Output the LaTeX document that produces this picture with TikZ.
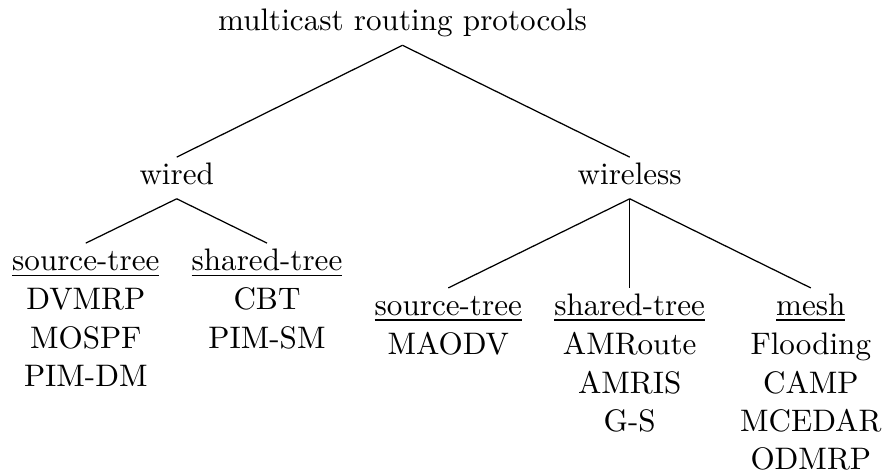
\documentclass[tikz,border=0pt]{standalone}
\begin{document}
\begin{tikzpicture}[x=0.3215pt,y=-0.3215pt,
  tn/.style={inner xsep=0pt, inner ysep=1.6pt, text height=7pt, text depth=2.8pt, anchor=base},
  item/.style={inner sep=0pt, anchor=base},
  edge/.style={line width=0.4pt}]
\useasboundingbox (0,0) rectangle (885,476);
% tree nodes
\node[tn] (root) at (402.5,31) {multicast routing protocols};
\node[tn] (wired) at (176.7,184.5) {wired};
\node[tn] (wireless) at (629.7,184.5) {wireless};
\node[tn] (lsrc) at (85.8,270.5) {\underline{source-tree}};
\node[tn] (lsh) at (267,270.5) {\underline{shared-tree}};
\node[tn] (rsrc) at (448.3,315.3) {\underline{source-tree}};
\node[tn] (rsh) at (629.7,315.3) {\underline{shared-tree}};
\node[tn] (mesh) at (810.8,315.3) {\underline{mesh}};
% lists
\node[item] (dvmrp) at (85.8,310) {DVMRP};
\node[item] (mospf) at (85.8,348.3) {MOSPF};
\node[item] (pimdm) at (85.8,386.7) {PIM-DM};
\node[item] (cbt) at (267,310) {CBT};
\node[item] (pimsm) at (267,348.3) {PIM-SM};
\node[item] (maodv) at (448.3,355) {MAODV};
\node[item] (amroute) at (629.7,355) {AMRoute};
\node[item] (amris) at (629.7,393.3) {AMRIS};
\node[item] (gs) at (629.7,431.6) {G-S};
\node[item] (flooding) at (810.8,355) {Flooding};
\node[item] (camp) at (810.8,393.3) {CAMP};
\node[item] (mcedar) at (810.8,431.6) {MCEDAR};
\node[item] (odmrp) at (810.8,470) {ODMRP};
% edges
\draw[edge] (root.south) -- (wired.north);
\draw[edge] (root.south) -- (wireless.north);
\draw[edge] (wired.south) -- (lsrc.north);
\draw[edge] (wired.south) -- (lsh.north);
\draw[edge] (wireless.south) -- (rsrc.north);
\draw[edge] (wireless.south) -- (rsh.north);
\draw[edge] (wireless.south) -- (mesh.north);
\end{tikzpicture}
\end{document}
